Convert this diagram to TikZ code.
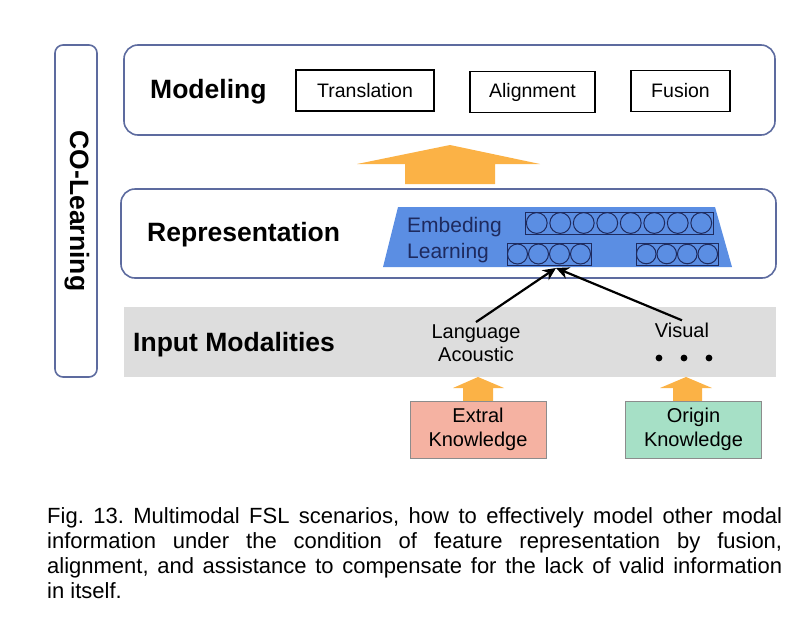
\documentclass[tikz,border=0pt]{standalone}
\usepackage{fontspec}
\setmainfont{Liberation Sans}
\usetikzlibrary{arrows.meta}
\definecolor{framec}{HTML}{5D6B9F}
\definecolor{arrowc}{HTML}{FBB246}
\definecolor{bandc}{HTML}{DDDDDD}
\definecolor{embedc}{HTML}{5B8EE3}
\definecolor{cellc}{HTML}{1E2A5E}
\definecolor{extrac}{HTML}{F5B2A2}
\definecolor{originc}{HTML}{A6E0C6}
\tikzset{
  panel/.style={draw=framec, line width=1.6pt, rounded corners=14pt},
  title/.style={font=\bfseries\fontsize{26.5}{30}\selectfont, anchor=base west, inner sep=0pt},
  task/.style={draw=black, line width=1.6pt, font=\fontsize{19.5}{22}\selectfont, minimum height=41pt},
  cellbox/.style={draw=cellc, line width=1pt},
  modal/.style={font=\fontsize{20}{23.5}\selectfont, align=center, inner sep=2pt},
  know/.style={draw=black!45, line width=0.9pt, font=\fontsize{20}{24}\selectfont, align=center,
    minimum width=136pt, minimum height=57pt},
  feed/.style={-{Stealth[length=13pt, width=12pt]}, line width=2.2pt}
}
\begin{document}
\begin{tikzpicture}[x=1pt, y=-1pt]
  \useasboundingbox (0,0) rectangle (800,632);

  % panels
  \node[panel, rounded corners=8pt, minimum width=42pt, minimum height=332pt] (colearn) at (76,211) {};
  \node[rotate=-90, font=\bfseries\fontsize{26.5}{30}\selectfont] (colearntext) at (77,211) {CO-Learning};
  \node[panel, minimum width=651pt, minimum height=90pt] (model) at (449.5,90) {};
  \node[panel, minimum width=655pt, minimum height=89pt] (repr) at (448.5,233.5) {};
  \node[fill=bandc, minimum width=652pt, minimum height=70pt, inner sep=0pt] (input) at (450,342) {};

  % titles
  \node[title] (modeltext) at (150,98) {Modeling};
  \node[title] (reprtext) at (147,241) {Representation};
  \node[title] (inputtext) at (133,351) {Input Modalities};

  % modeling tasks
  \node[task, minimum width=138pt] (trans) at (365,90.5) {Translation};
  \node[task, minimum width=125pt] (align) at (532.5,92) {Alignment};
  \node[task, minimum width=99pt] (fusion) at (680.5,91) {Fusion};

  % big arrow
  \fill[arrowc] (405,184) -- (405,164) -- (357,164) -- (450,145) -- (540,164) -- (495,164) -- (495,184) -- cycle;

  % embedding block
  \fill[embedc] (398,207) -- (715,207) -- (732,267) -- (383,267) -- cycle;
  \node[font=\fontsize{21}{25}\selectfont, text=cellc, anchor=base west, inner sep=0pt] (embtext) at (407,232) {Embeding};
  \node[font=\fontsize{21}{25}\selectfont, text=cellc, anchor=base west, inner sep=0pt] (learntext) at (407,258) {Learning};
  \node[cellbox, minimum width=188pt, minimum height=22pt, inner sep=0pt] (top) at (619,223) {};
  \foreach \i in {0,...,7}
    \draw[cellbox] (536.75+23.5*\i,223) circle (10.4pt);
  \node[cellbox, minimum width=84pt, minimum height=22pt, inner sep=0pt] (lowL) at (549,254) {};
  \foreach \i in {0,...,3}
    \draw[cellbox] (517.5+21*\i,254) circle (10pt);
  \node[cellbox, minimum width=82pt, minimum height=22pt, inner sep=0pt] (lowR) at (677,254) {};
  \foreach \i in {0,...,3}
    \draw[cellbox] (646.25+20.5*\i,254) circle (9.8pt);
  \coordinate (meet) at (556,268);

  % input modalities
  \node[modal] (lang) at (476,343) {Language\\Acoustic};
  \node[modal, anchor=base] (vis) at (682,337) {Visual};
  \foreach \x in {659,684,709}
    \fill (\x,358) circle (3.4pt);
  \draw[feed] (lang.north) -- (meet);
  \draw[feed] (vis.north) -- (meet);

  % knowledge
  \fill[arrowc] (463,401) -- (463,388) -- (453,388) -- (478,377) -- (504,388) -- (493,388) -- (493,401) -- cycle;
  \fill[arrowc] (673,401) -- (673,388) -- (660,388) -- (686,377) -- (712,388) -- (702,388) -- (702,401) -- cycle;
  \node[know, fill=extrac] (extra) at (478,429.5) {Extral\\Knowledge};
  \node[know, fill=originc] (origin) at (693.5,429.5) {Origin\\Knowledge};

  % caption
  \node[anchor=north west, text width=735pt, align=justify, inner sep=0pt,
    font=\fontsize{22}{25}\selectfont] (caption) at (47,507)
    {\frenchspacing\hyphenpenalty=10000 Fig. 13. Multimodal FSL scenarios, how to effectively model other modal\linebreak
     information under the condition of feature representation by fusion,\linebreak
     alignment, and assistance to compensate for the lack of valid information\linebreak
     in itself.};
\end{tikzpicture}
\end{document}
